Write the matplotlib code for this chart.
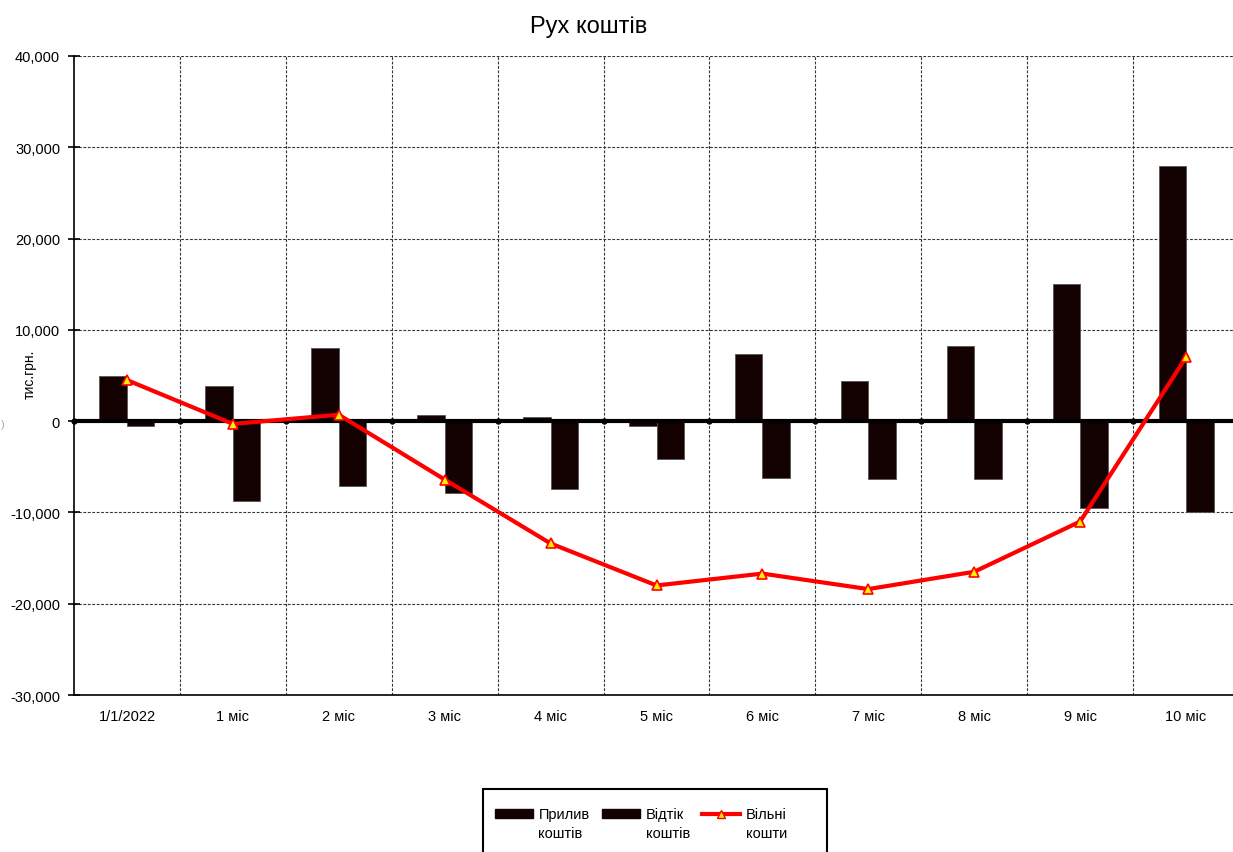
import numpy as np
import matplotlib
matplotlib.use("Agg")
import matplotlib.pyplot as plt
from matplotlib.lines import Line2D
from matplotlib.patches import Patch, Rectangle
from matplotlib.legend_handler import HandlerPatch, HandlerLine2D

plt.rcParams['font.family'] = ['Liberation Sans', 'DejaVu Sans']

categories = ["1/1/2022", "1 міс", "2 міс", "3 міс", "4 міс", "5 міс",
              "6 міс", "7 міс", "8 міс", "9 міс", "10 міс"]
inflow = [5000, 3900, 8000, 700, 400, -500, 7400, 4400, 8200, 15000, 28000]
outflow = [-500, -8700, -7100, -7900, -7400, -4100, -6200, -6300, -6300, -9500, -10000]
free_cash = [4500, -300, 700, -6400, -13400, -18000, -16700, -18400, -16500, -11000, 7000]

W, H = 1233, 853
fig = plt.figure(figsize=(W / 100, H / 100), dpi=100)
ax = fig.add_axes([74 / W, 1 - 696 / H, 1165 / W, 639 / H])

x = np.arange(len(categories))
bw = 0.26
bar_color = "#140202"
ax.bar(x - bw / 2, inflow, width=bw, color=bar_color, edgecolor="#555555",
       linewidth=0.6, zorder=3)
ax.bar(x + bw / 2, outflow, width=bw, color=bar_color, edgecolor="#555555",
       linewidth=0.6, zorder=3)
ax.plot(x, free_cash, color="#ff0000", linewidth=3, marker="^", markersize=7,
        markerfacecolor="#ffee00", markeredgecolor="#ff0000", markeredgewidth=1.2,
        zorder=5)

# zero line with small ticks at the category boundaries
ax.axhline(0, color="black", linewidth=3, zorder=4)
ax.plot(np.arange(len(categories) + 1) - 0.5, np.zeros(len(categories) + 1),
        linestyle="none", marker="o", markersize=3.5, color="black", zorder=4,
        clip_on=False)

ax.set_xlim(-0.5, len(categories) - 0.5)
ax.set_ylim(-30000, 40000)
ax.set_yticks(np.arange(-30000, 40001, 10000))
ax.yaxis.set_major_formatter(matplotlib.ticker.FuncFormatter(lambda v, p: f"{int(v):,}"))
ax.set_xticks(x)
ax.set_xticklabels(categories)
ax.tick_params(axis="both", labelsize=10.5, colors="black")
ax.tick_params(axis="x", length=0, pad=10)
ax.tick_params(axis="y", direction="inout", length=8, width=1.2, pad=6)

# grid: horizontal at y ticks, vertical at category boundaries
for yv in np.arange(-20000, 40001, 10000):
    ax.axhline(yv, color="#333333", linewidth=0.8, linestyle=(0, (2.5, 1.5)), zorder=1)
for xv in np.arange(0.5, len(categories) - 0.5, 1):
    ax.axvline(xv, color="#333333", linewidth=0.8, linestyle=(0, (2.5, 1.5)), zorder=1)

for s in ["top", "right"]:
    ax.spines[s].set_visible(False)
ax.spines["left"].set_linewidth(1.2)
ax.spines["bottom"].set_linewidth(1.2)

ax.set_ylabel("тис.грн.", fontsize=10)
ax.yaxis.set_label_coords(-0.032, 0.504)
fig.text(3 / W, 1 - 425 / H, ")", fontsize=8, color="#aaaaaa", ha="center", va="center")

fig.text(589 / W, 1 - 27 / H, "Рух коштів", fontsize=17, ha="center", va="center")

# legend keys sit level with the first line of each two-line label
KEY_SHIFT = 7.0


def raised_patch(legend, orig_handle, xdescent, ydescent, width, height, fontsize):
    return Rectangle((-xdescent, -ydescent + KEY_SHIFT), width, height)


class RaisedLine(HandlerLine2D):
    def create_artists(self, legend, orig_handle, xdescent, ydescent,
                       width, height, fontsize, trans):
        artists = super().create_artists(legend, orig_handle, xdescent, ydescent,
                                         width, height, fontsize, trans)
        for a in artists:
            a.set_ydata(np.asarray(a.get_ydata()) + KEY_SHIFT)
        return artists


handles = [Patch(facecolor=bar_color, edgecolor=bar_color),
           Patch(facecolor=bar_color, edgecolor=bar_color),
           Line2D([0], [0], color="#ff0000", linewidth=3, marker="^", markersize=6,
                  markerfacecolor="#ffee00", markeredgecolor="#ff0000")]
labels = ["Прилив\nкоштів", "Відтік\nкоштів", "Вільні\nкошти"]
leg = fig.legend(handles, labels, ncol=3, loc="upper left",
                 bbox_to_anchor=(483 / W, 1 - 796 / H), fontsize=10.5,
                 frameon=False, handlelength=2.6, handleheight=0.6,
                 columnspacing=0.85, handletextpad=0.4, borderpad=0.8,
                 borderaxespad=0,
                 handler_map={Patch: HandlerPatch(patch_func=raised_patch),
                              Line2D: RaisedLine()})
for t in leg.get_texts():
    t.set_linespacing(1.45)

# legend box, running past the lower edge of the figure
fig.add_artist(Rectangle((483 / W, -0.02), (827 - 483) / W, 1 - 790 / H + 0.02,
                         transform=fig.transFigure, fill=False,
                         edgecolor="black", linewidth=1.5, zorder=10))

fig.savefig("out.png", dpi=100)
